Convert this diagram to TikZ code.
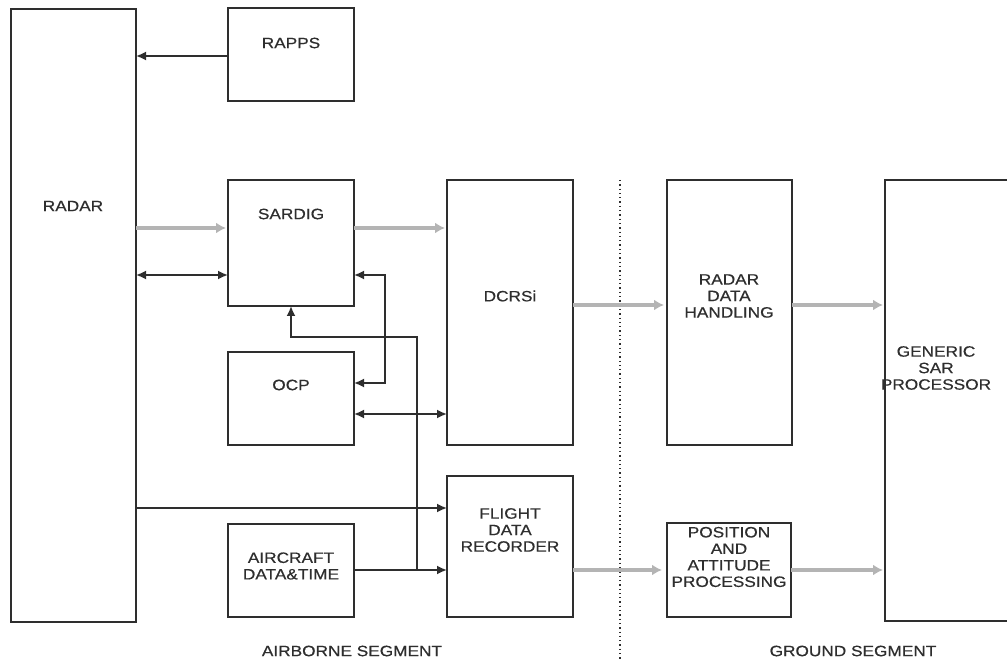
\documentclass[tikz,border=0pt]{standalone}
\usepackage{fontspec}
\newfontfamily\labfont[FakeStretch=1.15,FakeBold=0.6]{Liberation Sans}
\usetikzlibrary{arrows.meta}
\definecolor{ink}{HTML}{2E2E2E}
\definecolor{greyarr}{HTML}{B4B4B4}
\tikzset{
  box/.style={draw=ink, line width=1.4pt, inner sep=0pt, outer sep=0pt, anchor=north west},
  lab/.style={font=\labfont\fontsize{15}{16.5}\selectfont, text=ink, align=center, inner sep=0pt},
  tip/.style={},
  arr/.style={draw=ink, line width=1.8pt, -{Latex[length=10pt,width=9pt]}},
  darr/.style={draw=ink, line width=1.8pt, {Latex[length=10pt,width=9pt]}-{Latex[length=10pt,width=9pt]}},
  garr/.style={draw=greyarr, line width=4pt, -{Latex[length=10pt,width=11pt]}},
}
\begin{document}
\begin{tikzpicture}[x=1pt,y=-1pt]
\useasboundingbox (0,0) rectangle (1007,660);
\clip (0,0) rectangle (1007,660);
% boxes
\node[box, minimum width=125pt, minimum height=613pt] (radar) at (11,9) {};
\node[box, minimum width=126pt, minimum height=93pt] (rapps) at (228,8) {};
\node[box, minimum width=126pt, minimum height=126pt] (sardig) at (228,180) {};
\node[box, minimum width=126pt, minimum height=93pt] (ocp) at (228,352) {};
\node[box, minimum width=126pt, minimum height=93pt] (acdt) at (228,524) {};
\node[box, minimum width=126pt, minimum height=265pt] (dcrsi) at (447,180) {};
\node[box, minimum width=126pt, minimum height=141pt] (fdr) at (447,476) {};
\node[box, minimum width=125pt, minimum height=265pt] (rdh) at (667,180) {};
\node[box, minimum width=124pt, minimum height=94pt] (pap) at (667,523) {};
\node[box, minimum width=140pt, minimum height=441pt] (gsp) at (885,180) {};
% labels
\node[lab] (radarlab) at (73,206) {RADAR};
\node[lab] (rappslab) at (291,43) {RAPPS};
\node[lab] (sardiglab) at (291,214) {SARDIG};
\node[lab] (ocplab) at (291,385) {OCP};
\node[lab] (acdtlab) at (291,566) {AIRCRAFT\\DATA\&TIME};
\node[lab] (dcrsilab) at (510,296) {DCRSi};
\node[lab] (fdrlab) at (510,530) {FLIGHT\\DATA\\RECORDER};
\node[lab] (rdhlab) at (729,296) {RADAR\\DATA\\HANDLING};
\node[lab] (paplab) at (729,557) {POSITION\\AND\\ATTITUDE\\PROCESSING};
\node[lab] (gsplab) at (936,368) {GENERIC\\SAR\\PROCESSOR};
\node[lab] (airlab) at (352,651) {AIRBORNE SEGMENT};
\node[lab] (gndlab) at (853,651) {GROUND SEGMENT};
% helper coordinates
\coordinate (yA) at (0,56);
\coordinate (yG1) at (0,228);
\coordinate (yB) at (0,275);
\coordinate (yC) at (0,383);
\coordinate (yD) at (0,414);
\coordinate (yE) at (0,508);
\coordinate (yF) at (0,570);
\coordinate (yG2) at (0,305);
\coordinate (yH) at (0,337);
\coordinate (xJ) at (385,0);
\coordinate (xK) at (417,0);
\coordinate (junc) at (xK |- yF);
% dotted separator
\coordinate (sepTop) at (620,180);
\coordinate (sepBot) at (620,660);
\draw[ink, line width=1.3pt, dash pattern=on 1.3pt off 3pt] (sepTop) -- (sepBot);
% black connectors
\draw[arr] (rapps.west |- yA) -- (radar.east |- yA);
\draw[darr] (radar.east |- yB) -- (sardig.west |- yB);
\draw[darr] (sardig.east |- yB) -- (xJ |- yB) -- (xJ |- yC) -- (ocp.east |- yC);
\draw[darr] (ocp.east |- yD) -- (dcrsi.west |- yD);
\draw[arr] (radar.east |- yE) -- (fdr.west |- yE);
\draw[arr] (acdt.east |- yF) -- (fdr.west |- yF);
\draw[arr] (junc) -- (xK |- yH) -- (sardig.south |- yH) -- (sardig.south);
% grey data-flow arrows
\draw[garr] (radar.east |- yG1) -- ([xshift=-2pt]sardig.west |- yG1);
\draw[garr] (sardig.east |- yG1) -- ([xshift=-2pt]dcrsi.west |- yG1);
\draw[garr] (dcrsi.east |- yG2) -- ([xshift=-3pt]rdh.west |- yG2);
\draw[garr] (rdh.east |- yG2) -- ([xshift=-2pt]gsp.west |- yG2);
\draw[garr] (fdr.east |- yF) -- ([xshift=-5pt]pap.west |- yF);
\draw[garr] (pap.east |- yF) -- ([xshift=-2pt]gsp.west |- yF);
\end{tikzpicture}
\end{document}
